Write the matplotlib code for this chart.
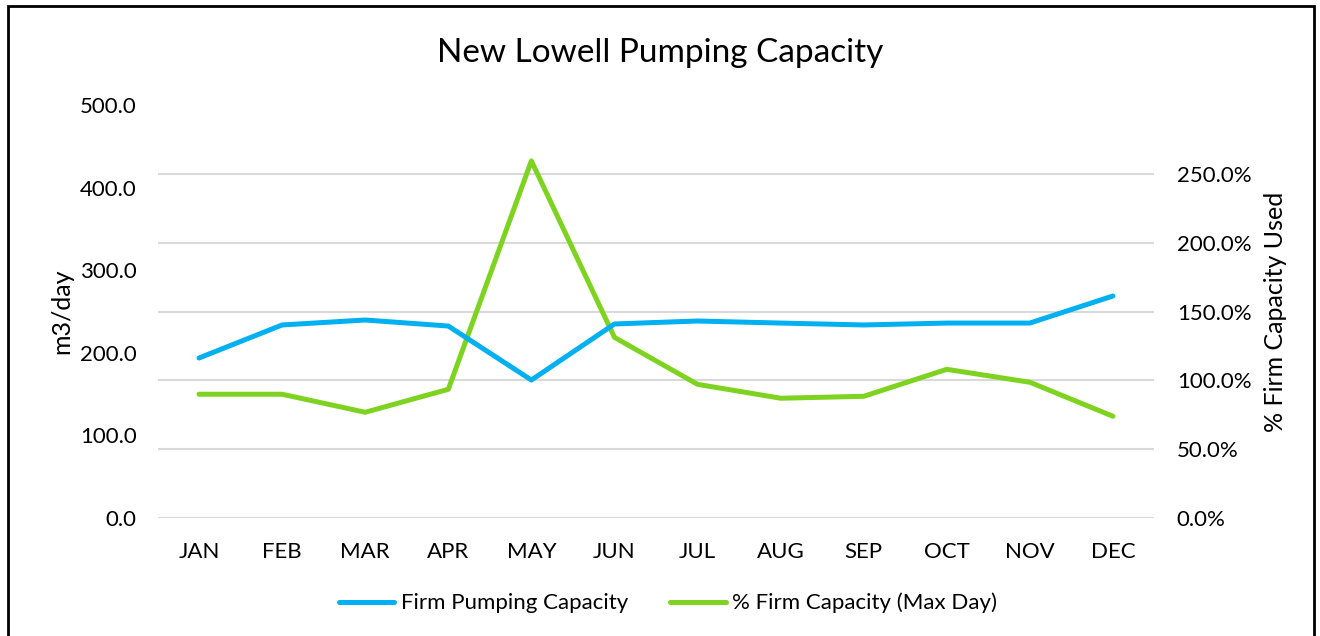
import matplotlib.pyplot as plt
from matplotlib.patches import Rectangle
from matplotlib.ticker import FuncFormatter

plt.rcParams["font.family"] = ["Lato", "DejaVu Sans"]

months = ["JAN", "FEB", "MAR", "APR", "MAY", "JUN",
          "JUL", "AUG", "SEP", "OCT", "NOV", "DEC"]
firm_capacity = [193.7, 233.7, 239.7, 232.4, 167.0, 234.9,
                 238.5, 236.0, 233.7, 236.0, 236.0, 268.8]
pct_used = [0.899, 0.899, 0.768, 0.935, 2.594, 1.312,
            0.971, 0.870, 0.884, 1.080, 0.986, 0.739]

BLUE = "#00B0F0"
GREEN = "#7ED321"

W, H = 1320, 636
fig = plt.figure(figsize=(W / 100, H / 100), dpi=100)
fig.patches.append(Rectangle((8 / W, -0.01), 1306 / W, 1.01 - 6 / H,
                             transform=fig.transFigure, fill=False,
                             edgecolor="black", linewidth=2))

# plot area in pixels: x 157.5..1154.5, y 105..518
ax = fig.add_axes([157.5 / W, 1 - 518 / H, 997 / W, 413 / H])
ax2 = ax.twinx()

x = list(range(len(months)))
l1, = ax.plot(x, firm_capacity, color=BLUE, lw=3.6, solid_capstyle="round",
              label="Firm Pumping Capacity", zorder=3)
l2, = ax2.plot(x, pct_used, color=GREEN, lw=3.6, solid_capstyle="round",
               label="% Firm Capacity (Max Day)", zorder=3)

ax.set_xlim(-0.5, len(months) - 0.5)
ax.set_ylim(0, 500)
ax.set_yticks(range(0, 501, 100))
ax.yaxis.set_major_formatter(FuncFormatter(lambda v, p: f"{v:.1f}"))
ax.set_xticks(x)
ax.set_xticklabels(months)

ax2.set_ylim(0, 3.0)
ax2.set_yticks([0, 0.5, 1.0, 1.5, 2.0, 2.5])
ax2.yaxis.set_major_formatter(FuncFormatter(lambda v, p: f"{v * 100:.1f}%"))
ax2.grid(axis="y", color="#d9d9d9", lw=1.5)
ax2.set_axisbelow(True)
ax.set_zorder(ax2.get_zorder() + 1)
ax.patch.set_visible(False)

for a in (ax, ax2):
    for s in a.spines.values():
        s.set_visible(False)
    a.tick_params(length=0, labelsize=16, colors="black")
ax.tick_params(axis="x", pad=17)
ax.tick_params(axis="y", pad=15)
ax2.tick_params(axis="y", pad=16)

ax.set_ylabel("m3/day", fontsize=18, va="center")
ax.yaxis.set_label_coords(-0.0958, 0.5)
ax2.set_ylabel("% Firm Capacity Used", fontsize=18, va="center")
ax2.yaxis.set_label_coords(1.1209, 0.5)

fig.text(0.5, 1 - 53 / H, "New Lowell Pumping Capacity", ha="center",
         va="center", fontsize=24)

fig.legend(handles=[l1, l2], loc="center",
           bbox_to_anchor=(0.5 + 8 / W, 1 - 603 / H),
           ncol=2, frameon=False, fontsize=16, handlelength=2.5,
           handletextpad=0.3, columnspacing=1.9)

fig.savefig("out.png", dpi=100)
